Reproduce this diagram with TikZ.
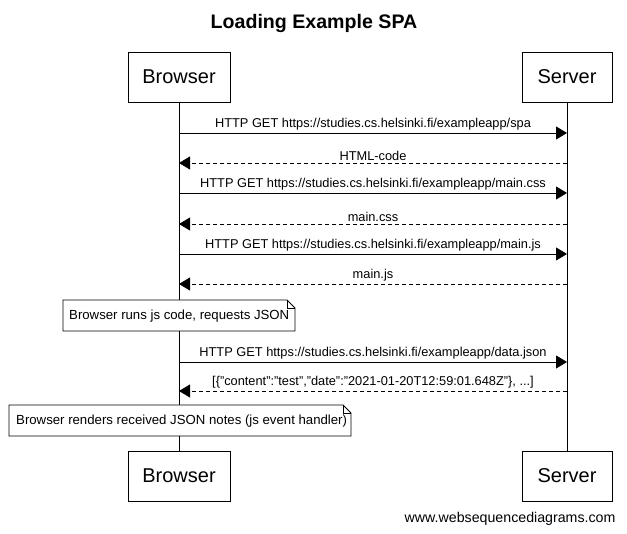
\documentclass[tikz,border=0pt]{standalone}
\usepackage{fontspec}
\setmainfont{Liberation Sans}
\usetikzlibrary{arrows.meta}
\begin{document}
\begin{tikzpicture}[x=1pt,y=-1pt,
  actor/.style={draw,line width=0.8pt,fill=white,minimum width=#1,minimum height=50pt,font=\fontsize{20}{22}\selectfont,inner sep=0pt},
  msg/.style={line width=0.8pt,-{Triangle[length=11pt,width=13pt]}},
  reply/.style={msg,dash pattern=on 4pt off 3pt},
  lbl/.style={font=\fontsize{12.8}{14}\selectfont,inner sep=0pt,anchor=base},
  note/.style={font=\fontsize{13.2}{15}\selectfont,inner sep=0pt,anchor=west},
  life/.style={line width=0.8pt}]
\useasboundingbox (0,0) rectangle (627,534);
\fill[white] (0,0) rectangle (627,534);
\node[font=\bfseries\fontsize{19.6}{22}\selectfont] (title) at (314,23) {Loading Example SPA};
\node[actor=102pt] (bt) at (179,77) {Browser};
\node[actor=90pt] (st) at (567,77) {Server};
\node[actor=102pt] (bb) at (179,476) {Browser};
\node[actor=90pt] (sb) at (567,476) {Server};
\draw[life] (bt.south) -- (bb.north);
\draw[life] (st.south) -- (sb.north);
\foreach \n/\y in {1/133,2/163,3/193,4/224,5/254,6/284,7/362,8/391}{
  \coordinate (b\n) at (179,\y);
  \coordinate (s\n) at (567,\y);
}
\draw[msg] (b1) -- node[lbl,above=2pt] (l1) {HTTP GET https://studies.cs.helsinki.fi/exampleapp/spa} (s1);
\draw[reply] (s2) -- node[lbl,above=2pt] (l2) {HTML-code} (b2);
\draw[msg] (b3) -- node[lbl,above=2pt] (l3) {HTTP GET https://studies.cs.helsinki.fi/exampleapp/main.css} (s3);
\draw[reply] (s4) -- node[lbl,above=2pt] (l4) {main.css} (b4);
\draw[msg] (b5) -- node[lbl,above=2pt] (l5) {HTTP GET https://studies.cs.helsinki.fi/exampleapp/main.js} (s5);
\draw[reply] (s6) -- node[lbl,above=2pt] (l6) {main.js} (b6);
\draw[msg] (b7) -- node[lbl,above=2pt] (l7) {HTTP GET https://studies.cs.helsinki.fi/exampleapp/data.json} (s7);
\draw[reply] (s8) -- node[lbl,above=2pt] (l8) {[\{"content":"test","date":"2021-01-20T12:59:01.648Z"\}, ...]} (b8);
% note 1
\draw[line width=0.8pt,fill=white] (63,300) -- (287,300) -- (295,308) -- (295,331) -- (63,331) -- cycle;
\draw[line width=0.6pt] (287,300) -- (287,308) -- (295,308);
\node[note] (n1) at (69,316) {Browser runs js code, requests JSON};
% note 2
\draw[line width=0.8pt,fill=white] (9,405) -- (343,405) -- (351,413) -- (351,436) -- (9,436) -- cycle;
\draw[line width=0.6pt] (343,405) -- (343,413) -- (351,413);
\node[note] (n2) at (16,421) {Browser renders received JSON notes (js event handler)};
\node[font=\fontsize{14.2}{16}\selectfont,anchor=east] (foot) at (619,519) {www.websequencediagrams.com};
\end{tikzpicture}
\end{document}
